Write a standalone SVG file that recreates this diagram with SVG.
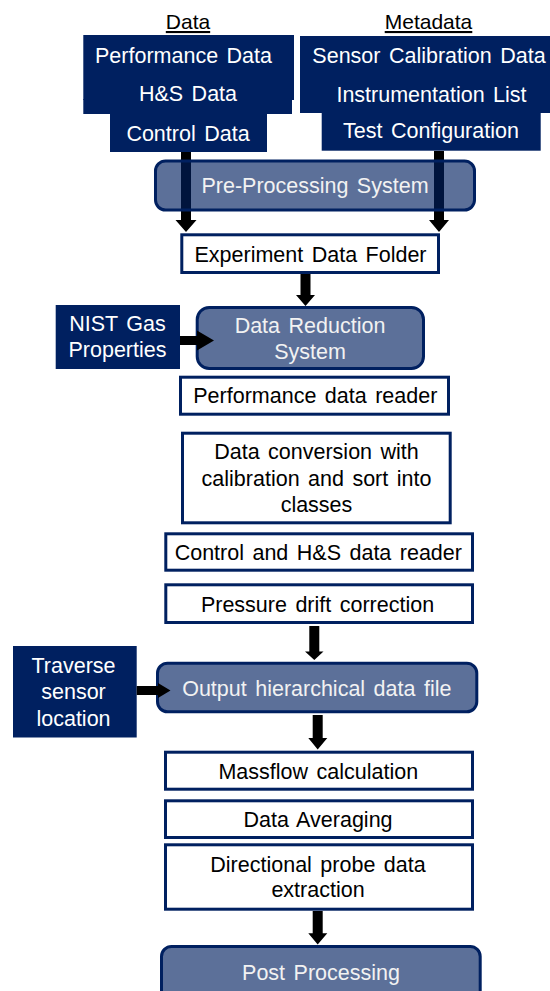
<svg xmlns="http://www.w3.org/2000/svg" width="550" height="991" viewBox="0 0 550 991">
<style>
text{font-family:"Liberation Sans",Arial,sans-serif;font-size:21.5px;text-anchor:middle;word-spacing:2.5px}
.dk{fill:#002060}
.wt{fill:#FFFFFF}
.lt{fill:#F2F2F2}
.bk{fill:#000000}
.wb{fill:#FFFFFF;stroke:#002060;stroke-width:3}
.rb{fill:#002060;fill-opacity:0.64;stroke:#002060;stroke-width:3}
.arr{fill:#000000}
.hd{font-size:21px;text-decoration:underline}
</style>
<g id="label-data"><text class="bk hd" x="188" y="29">Data</text></g>
<g id="label-metadata"><text class="bk hd" x="428.5" y="29">Metadata</text></g>
<g id="data-sources">
<rect class="dk" x="83.3" y="35" width="210.7" height="65"/>
<rect class="dk" x="83.3" y="99" width="208.7" height="15"/>
<rect class="dk" x="110" y="113" width="157" height="39"/>
<text class="wt" x="183.5" y="62.7">Performance Data</text>
<text class="wt" x="188" y="101">H&amp;S Data</text>
<text class="wt" x="188" y="140.5">Control Data</text>
</g>
<g id="metadata-sources">
<rect class="dk" x="300" y="36" width="250" height="77"/>
<rect class="dk" x="321.7" y="112" width="219" height="38.7"/>
<text class="wt" x="429" y="63.3">Sensor Calibration Data</text>
<text class="wt" x="431.5" y="101.7">Instrumentation List</text>
<text class="wt" x="431" y="138.3">Test Configuration</text>
</g>
<g id="experiment-data-folder">
<rect class="wb" x="181.8" y="234.8" width="256.7" height="37.7"/>
<text class="bk" x="310.5" y="261.7">Experiment Data Folder</text>
</g>
<g id="nist-gas-properties">
<rect class="dk" x="55.7" y="305" width="124.3" height="64"/>
<text class="wt" x="117.5" y="331">NIST Gas</text>
<text class="wt" x="117.5" y="356.7">Properties</text>
</g>
<g id="data-reduction-system">
<rect class="rb" x="197.2" y="307.5" width="226.3" height="61" rx="12"/>
<text class="lt" x="310" y="332.7">Data Reduction</text>
<text class="lt" x="310" y="358.5">System</text>
</g>
<g id="performance-data-reader">
<rect class="wb" x="180.5" y="377.2" width="268" height="37"/>
<text class="bk" x="315.3" y="403.3">Performance data reader</text>
</g>
<g id="data-conversion">
<rect class="wb" x="182.5" y="433.2" width="267.7" height="89.6"/>
<text class="bk" x="316.5" y="459">Data conversion with</text>
<text class="bk" x="316.5" y="485.7">calibration and sort into</text>
<text class="bk" x="316.5" y="511.7">classes</text>
</g>
<g id="control-hs-data-reader">
<rect class="wb" x="165.8" y="533.8" width="306.7" height="36.4"/>
<text class="bk" x="318.3" y="560">Control and H&amp;S data reader</text>
</g>
<g id="pressure-drift-correction">
<rect class="wb" x="165.8" y="584.8" width="306.7" height="37.7"/>
<text class="bk" x="317.5" y="611.7">Pressure drift correction</text>
</g>
<g id="traverse-sensor-location">
<rect class="dk" x="13" y="646" width="123.7" height="91.5"/>
<text class="wt" x="73.5" y="672.7">Traverse</text>
<text class="wt" x="73.5" y="699">sensor</text>
<text class="wt" x="73.5" y="725.5">location</text>
</g>
<g id="output-hierarchical-data-file">
<rect class="rb" x="157.5" y="663.2" width="319.3" height="48.6" rx="10"/>
<text class="lt" x="316.8" y="696">Output hierarchical data file</text>
</g>
<g id="massflow-calculation">
<rect class="wb" x="165.5" y="752.2" width="307" height="37"/>
<text class="bk" x="318.3" y="779">Massflow calculation</text>
</g>
<g id="data-averaging">
<rect class="wb" x="165.5" y="800.8" width="307" height="36.7"/>
<text class="bk" x="318" y="826.7">Data Averaging</text>
</g>
<g id="directional-probe-data-extraction">
<rect class="wb" x="165.5" y="844.8" width="307" height="64.4"/>
<text class="bk" x="318" y="871.7">Directional probe data</text>
<text class="bk" x="318" y="897.3">extraction</text>
</g>
<g id="post-processing">
<rect class="rb" x="161.5" y="946.5" width="318.7" height="60" rx="10"/>
<text class="lt" x="321" y="980">Post Processing</text>
</g>
<g id="connectors">
<polygon class="arr" points="181,152 191,152 191,220 196.5,220 186,232 175.5,220 181,220"/>
<polygon class="arr" points="434,151 444,151 444,220 449,220 439,232 429,220 434,220"/>
<polygon class="arr" points="300.5,274 310.5,274 310.5,295 315,295 305.5,306 296,295 300.5,295"/>
<polygon class="arr" points="180,336 197,336 197,330.5 214,340.5 197,350.5 197,345 180,345"/>
<polygon class="arr" points="309.3,626 319.3,626 319.3,651.5 323.5,651.5 314.3,660 305,651.5 309.3,651.5"/>
<polygon class="arr" points="136.7,686 158,686 158,683 170.5,690.5 158,698 158,695 136.7,695"/>
<polygon class="arr" points="312.7,715 322.7,715 322.7,738 327.3,738 317.7,749.5 308.3,738 312.7,738"/>
<polygon class="arr" points="312.7,911 322.7,911 322.7,933.3 327.3,933.3 317.7,944.5 308.3,933.3 312.7,933.3"/>
</g>
<g id="pre-processing-system">
<rect class="rb" x="155.5" y="161" width="319" height="49" rx="10"/>
<text class="lt" x="315" y="193.3">Pre-Processing System</text>
</g>
</svg>
